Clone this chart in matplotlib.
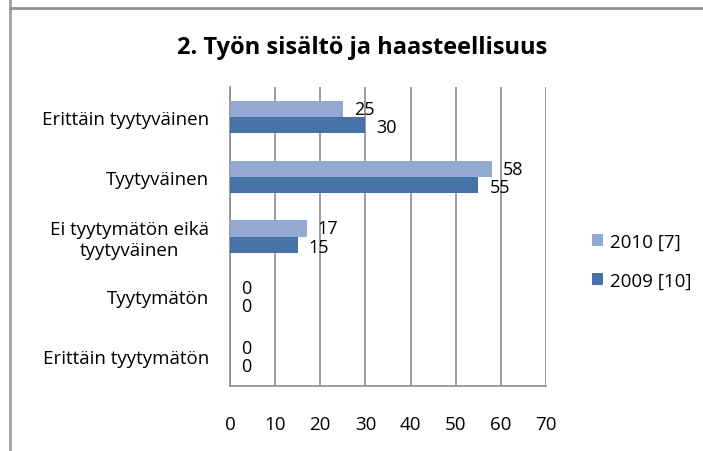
import matplotlib
matplotlib.use("Agg")
import matplotlib.pyplot as plt
from matplotlib.lines import Line2D
import numpy as np

plt.rcParams['font.family'] = ['Open Sans', 'DejaVu Sans']

# data
categories = ["Erittäin tyytyväinen", "Tyytyväinen", "Ei tyytymätön eikä\ntyytyväinen",
              "Tyytymätön", "Erittäin tyytymätön"]
series_names = ["2010 [7]", "2009 [10]"]
values_2010 = [25, 58, 17, 0, 0]
values_2009 = [30, 55, 15, 0, 0]
xticks = [0, 10, 20, 30, 40, 50, 60, 70]

light = "#94a9d1"
dark = "#4673a7"
grid_col = "#8c8c8c"

fig = plt.figure(figsize=(7.03, 4.52), dpi=100)
ax = fig.add_axes([230 / 703, 65 / 452, 316 / 703, 299 / 452])

y = np.arange(len(categories))
h = 0.27
b1 = ax.barh(y - h / 2, values_2010, height=h, color=light, label=series_names[0], zorder=3)
b2 = ax.barh(y + h / 2, values_2009, height=h, color=dark, label=series_names[1], zorder=3)

# data labels (2010 a bit up, 2009 a bit down so that zeros don't collide)
for bars, vals, dy in ((b1, values_2010, 0), (b2, values_2009, -1.5)):
    for rect, v in zip(bars, vals):
        ax.annotate(str(v), (rect.get_width(), rect.get_y() + rect.get_height() / 2),
                    xytext=(8, dy), textcoords="offset points", ha="left", va="center",
                    fontsize=13, color="black")

ax.set_xlim(0, 70)
ax.set_ylim(len(categories) - 0.5, -0.5)
ax.set_xticks(xticks)
ax.set_yticks(y)
ax.set_yticklabels(categories, multialignment="center")
ax.tick_params(axis="both", length=0, labelsize=13.5)
ax.tick_params(axis="y", pad=15)
ax.tick_params(axis="x", pad=21)
ax.xaxis.grid(True, color=grid_col, linewidth=1.2, zorder=0)
ax.set_axisbelow(True)
for s in ["top", "right"]:
    ax.spines[s].set_visible(False)
for s in ["left", "bottom"]:
    ax.spines[s].set_color(grid_col)
    ax.spines[s].set_linewidth(1.2)

fig.text((175 + 550) / 2 / 703, 1 - 48 / 452, "2. Työn sisältö ja haasteellisuus",
         ha="center", va="center", fontsize=17, fontweight="bold")

fig.legend(handles=[b1, b2], loc="center left", bbox_to_anchor=(575 / 703, 1 - 262 / 452),
           frameon=False, fontsize=13.5, handlelength=0.6, handleheight=0.6,
           labelspacing=1.1, handletextpad=0.35)

# outer frame lines
fig.add_artist(Line2D([9.5 / 703, 9.5 / 703], [0, 1], color="#a0a0a0", linewidth=2))
fig.add_artist(Line2D([9.5 / 703, 1], [1 - 8.5 / 452, 1 - 8.5 / 452], color="#909090", linewidth=2))

fig.savefig("out.png", dpi=100)
